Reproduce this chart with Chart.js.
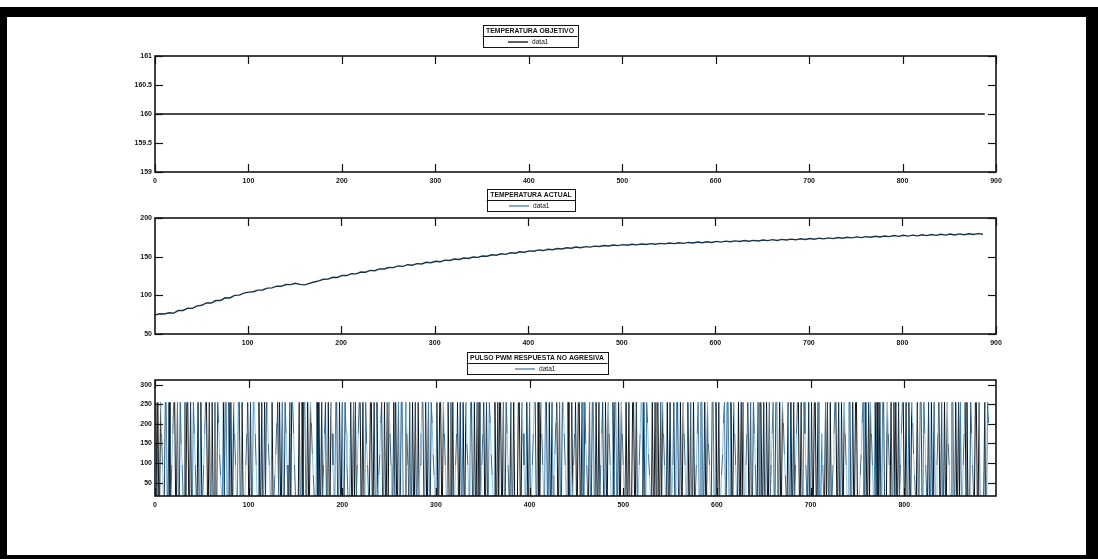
<!DOCTYPE html>
<html>
<head>
<meta charset="utf-8">
<script src="https://cdn.jsdelivr.net/npm/chart.js@4.4.1/dist/chart.umd.min.js"></script>
<style>
  html, body { margin: 0; padding: 0; background: #fff; }
  body { width: 1098px; height: 559px; position: relative; overflow: hidden; }
  #frame {
    position: absolute; left: 0; top: 7px; width: 1098px; height: 552px;
    box-sizing: border-box; border: solid #000; border-width: 10px 12px 4px 7px;
  }
  canvas { position: absolute; left: 10px; }
</style>
</head>
<body>
<div id="frame"></div>
<canvas id="target-chart" width="1040" height="180" style="top:14px"></canvas>
<canvas id="actual-chart" width="1040" height="180" style="top:176px"></canvas>
<canvas id="pwm-chart" width="1040" height="180" style="top:338px"></canvas>

<script>
// ===== MATLAB-style three-panel figure =====
// Each panel is its own Chart.js line chart; box, inward ticks and the
// titled legend are drawn by a small plugin.

const FONT = '"Liberation Sans", Arial, sans-serif';
const INK = '#141414';

// ---- Panel 1: TEMPERATURA OBJETIVO ----
const targetX = [1, 888];
const targetY = [160, 160];
const targetXTicks = [0, 100, 200, 300, 400, 500, 600, 700, 800, 900];
const targetYTicks = [159, 159.5, 160, 160.5, 161];

// ---- Panel 2: TEMPERATURA ACTUAL (one reading every 5 samples) ----
const actualFirstX = 1;
const actualStepX = 5;
const actualTemp = [
  74.6, 76.2, 75.8, 77.4, 77.0, 80.3, 80.4, 83.5, 83.2, 86.4,
  87.1, 90.2, 90.0, 93.3, 93.4, 96.8, 96.6, 99.9, 100.3, 102.9,
  104.2, 104.6, 106.8, 106.9, 109.3, 109.6, 111.8, 111.7, 114.0, 113.8,
  115.6, 114.2, 113.5, 115.4, 117.2, 118.6, 120.8, 120.9, 123.4, 123.1,
  125.7, 125.6, 128.0, 127.8, 130.2, 129.9, 132.3, 131.8, 134.1, 134.0,
  135.9, 135.8, 138.0, 137.4, 139.6, 138.9, 141.0, 140.6, 142.7, 142.2,
  144.0, 143.5, 145.5, 145.0, 146.9, 146.3, 148.3, 147.6, 149.6, 149.1,
  150.8, 150.5, 152.4, 151.8, 153.7, 153.0, 155.1, 154.4, 156.3, 155.8,
  157.5, 157.0, 158.7, 157.9, 159.6, 159.0, 160.6, 160.0, 161.5, 160.9,
  162.4, 161.6, 163.0, 162.4, 163.6, 163.1, 164.4, 163.8, 165.0, 164.3,
  165.6, 164.8, 166.0, 165.3, 166.4, 165.7, 166.9, 166.0, 167.2, 166.5,
  167.6, 166.9, 168.0, 167.2, 168.4, 167.6, 168.9, 168.0, 169.3, 168.4,
  169.7, 168.8, 170.1, 169.3, 170.4, 169.6, 170.9, 170.0, 171.1, 170.3,
  171.6, 170.7, 172.0, 171.0, 172.3, 171.5, 172.7, 171.8, 173.2, 172.2,
  173.4, 172.6, 173.9, 173.0, 174.3, 173.4, 174.8, 173.8, 175.1, 174.3,
  175.6, 174.6, 175.9, 175.1, 176.4, 175.4, 176.7, 175.9, 177.3, 176.2,
  177.6, 176.6, 177.9, 176.9, 178.3, 177.2, 178.6, 177.6, 178.9, 177.9,
  179.3, 178.1, 179.4, 178.4, 179.6, 178.6, 179.8, 178.9
];
const actualXTicks = [100, 200, 300, 400, 500, 600, 700, 800, 900];
const actualYTicks = [50, 100, 150, 200];

// ---- Panel 3: PULSO PWM (one code per sample, code -> duty level) ----
const pwmLevels = [16, 42, 69, 95, 122, 149, 175, 202, 228, 255];
const pwmCodes = [
  '9090096300990090036990090095300909900900963009009003699009009009009742009099009',
  '0900963009900900036900900996300900900909953009002479090090096300909963000090090',
  '9900900974200090900903690090096300990090090096300090090903699009009530099009009',
  '0247900900909630090900900990009630900900900903699009009009742009009900963009009',
  '0900369009009009530099009009090036900900974200900909900900963009009000099009630',
  '0900900369900900963009900900902479009009963009000903690099009009530090099009009',
  '0369009009630090990090096300900900099009003699090097420090090990090963009009003',
  '9009900900963009009009003690099009009530099009009002479009900900963009009090036',
  '9009009630090990090090090369009900900974200900900903699009009630090090099009000',
  '6300909009003699009009009630099009009900024790090090963009090090099000963090090',
  '9009036990090090097420090099009630090090090036900900900953009900900909003690900',
  '096300990090000090097'
].join('');
const pwmXTicks = [0, 100, 200, 300, 400, 500, 600, 700, 800];
const pwmYTicks = [50, 100, 150, 200, 250, 300];

// ---- Plugin: box, inward ticks on all sides, titled legend ----
const matlabFrame = {
  id: 'matlabFrame',
  afterDraw(chart, args, opts) {
    const { ctx, chartArea: a, scales } = chart;
    const line = (x1, y1, x2, y2) => {
      ctx.beginPath(); ctx.moveTo(x1, y1); ctx.lineTo(x2, y2); ctx.stroke();
    };
    ctx.save();
    ctx.strokeStyle = INK;
    ctx.lineWidth = 1.2;
    scales.x.ticks.forEach((t) => {
      const px = Math.round(scales.x.getPixelForValue(t.value)) + 0.5;
      line(px, a.bottom, px, a.bottom - 8);
      line(px, a.top, px, a.top + 8);
    });
    scales.y.ticks.forEach((t) => {
      const py = Math.round(scales.y.getPixelForValue(t.value)) + 0.5;
      line(a.left, py, a.left + 8, py);
      line(a.right, py, a.right - 8, py);
    });
    ctx.lineWidth = 1.6;
    ctx.strokeRect(a.left, a.top, a.width, a.height);

    // legend box with title row and one item row
    const ds = chart.data.datasets[0];
    ctx.font = `bold 6.8px ${FONT}`;
    const w = ctx.measureText(opts.title).width + 7;
    const cx = opts.centerX;
    const top = a.top - opts.offset;
    const rowH = 11;
    ctx.fillStyle = '#fff';
    ctx.fillRect(cx - w / 2, top, w, rowH * 2);
    ctx.lineWidth = 1;
    ctx.strokeStyle = INK;
    ctx.strokeRect(Math.round(cx - w / 2) + 0.5, top + 0.5, Math.round(w), rowH * 2);
    line(cx - w / 2, top + rowH + 0.5, cx + w / 2, top + rowH + 0.5);
    ctx.fillStyle = INK;
    ctx.textAlign = 'center';
    ctx.textBaseline = 'middle';
    ctx.fillText(opts.title, cx, top + rowH / 2 + 1);
    ctx.strokeStyle = opts.legendColor;
    ctx.lineWidth = 1.3;
    line(cx - 22, top + rowH * 1.5 + 0.5, cx - 2, top + rowH * 1.5 + 0.5);
    ctx.font = `6.6px ${FONT}`;
    ctx.textAlign = 'left';
    ctx.fillText(ds.label, cx + 2, top + rowH * 1.5 + 1);
    ctx.restore();
  },
};

function fixedTicks(values) {
  return (axis) => { axis.ticks = values.map((v) => ({ value: v })); };
}

function makePanel(canvasId, dataset, xRange, yRange, xTicks, yTicks, legend) {
  return new Chart(document.getElementById(canvasId), {
    type: 'line',
    data: { datasets: [dataset] },
    plugins: [matlabFrame],
    options: {
      responsive: false,
      animation: false,
      layout: { padding: { left: 105, right: 54, top: 42, bottom: 8 } },
      elements: { point: { radius: 0 } },
      plugins: {
        legend: { display: false },
        tooltip: { enabled: false },
        matlabFrame: legend,
      },
      scales: {
        x: {
          type: 'linear',
          min: xRange[0],
          max: xRange[1],
          afterBuildTicks: fixedTicks(xTicks),
          afterFit: (s) => { s.height = 14; },
          grid: { display: false, drawTicks: false },
          border: { display: false },
          ticks: {
            autoSkip: false, maxRotation: 0, padding: 5, color: INK,
            font: { family: FONT, size: 7, weight: 'bold' },
            callback: (v) => String(v),
          },
        },
        y: {
          min: yRange[0],
          max: yRange[1],
          afterBuildTicks: fixedTicks(yTicks),
          afterFit: (s) => { s.width = 40; },
          grid: { display: false, drawTicks: false },
          border: { display: false },
          ticks: {
            autoSkip: false, padding: 3, color: INK,
            font: { family: FONT, size: 7, weight: 'bold' },
            callback: (v) => String(v),
          },
        },
      },
    },
  });
}

// Panel 1
makePanel('target-chart', {
  label: 'data1',
  data: targetX.map((x, i) => ({ x, y: targetY[i] })),
  borderColor: '#0c0c0c',
  borderWidth: 1.6,
}, [0, 900], [159, 161], targetXTicks, targetYTicks,
  { title: 'TEMPERATURA OBJETIVO', centerX: 520, offset: 31, legendColor: '#0c0c0c' });

// Panel 2
makePanel('actual-chart', {
  label: 'data1',
  data: actualTemp.map((y, i) => ({ x: actualFirstX + i * actualStepX, y })),
  borderColor: '#16344c',
  borderWidth: 1.4,
}, [1, 900], [50, 200], actualXTicks, actualYTicks,
  { title: 'TEMPERATURA ACTUAL', centerX: 521, offset: 29, legendColor: '#4a7ea6' });

// Panel 3: full swings mostly black, partial swings in blues
const pwmSwingColors = ['#0d1114', '#1a4666', '#0d1114', '#3f86b8'];
const pwmSlopeColors = ['#2f6d98', '#8cc4e3'];
makePanel('pwm-chart', {
  label: 'data1',
  data: pwmCodes.split('').map((c, i) => ({ x: i + 1, y: pwmLevels[Number(c)] })),
  borderColor: '#2f6d98',
  borderWidth: 1,
  segment: {
    borderColor: (ctx) => {
      const dy = Math.abs(ctx.p1.parsed.y - ctx.p0.parsed.y);
      if (dy > 200) return pwmSwingColors[ctx.p0DataIndex % 4];
      return pwmSlopeColors[ctx.p0DataIndex % 2];
    },
  },
}, [0, 898], [16, 312], pwmXTicks, pwmYTicks,
  { title: 'PULSO PWM RESPUESTA NO AGRESIVA', centerX: 527, offset: 28, legendColor: '#4a7ea6' });
</script>
</body>
</html>
